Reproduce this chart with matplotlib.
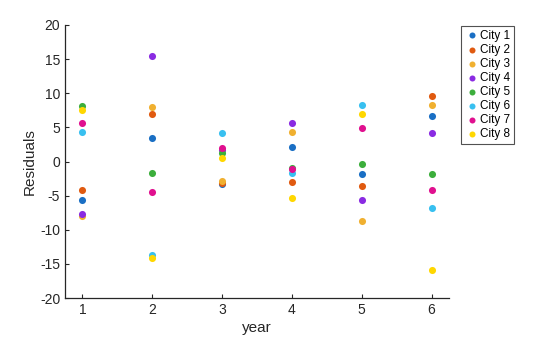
import matplotlib
matplotlib.use("Agg")
import matplotlib.pyplot as plt

plt.rcParams['font.family'] = ['Liberation Sans', 'DejaVu Sans']
plt.rcParams['axes.unicode_minus'] = False

years = [1, 2, 3, 4, 5, 6]
cities = ["City 1", "City 2", "City 3", "City 4", "City 5", "City 6", "City 7", "City 8"]

city1 = [-5.7, 3.4, -3.35, 2.1, -1.9, 6.6]
city2 = [-4.2, 6.9, -3.1, -3.05, -3.6, 9.55]
city3 = [-8.0, 7.95, -2.85, 4.3, -8.75, 8.25]
city4 = [-7.7, 15.4, 1.7, 5.6, -5.7, 4.15]
city5 = [8.1, -1.7, 1.2, -0.9, -0.4, -1.9]
city6 = [4.3, -13.7, 4.15, -1.7, 8.25, -6.85]
city7 = [5.6, -4.5, 1.95, -1.1, 4.85, -4.2]
city8 = [7.5, -14.2, 0.5, -5.4, 6.9, -15.9]
residuals = [city1, city2, city3, city4, city5, city6, city7, city8]

colors = ["#1a6fc4", "#e05a10", "#f0b030", "#8a2be2",
          "#3cae3c", "#38c0f0", "#e0108f", "#ffd700"]

fig = plt.figure(figsize=(5.6, 3.37), dpi=100)
ax = fig.add_axes([65 / 560, 1 - 298 / 337, 384 / 560, 273 / 337])

for name, vals, c in zip(cities, residuals, colors):
    ax.scatter(years, vals, s=26, color=c, label=name, linewidths=0, zorder=3)

ax.set_xlim(0.75, 6.25)
ax.set_ylim(-20, 20)
ax.set_xticks(years)
ax.set_yticks(range(-20, 21, 5))
ax.spines['top'].set_visible(False)
ax.spines['right'].set_visible(False)
for s in ['left', 'bottom']:
    ax.spines[s].set_color('#262626')
    ax.spines[s].set_linewidth(0.9)
ax.tick_params(direction='in', length=3, width=0.8, colors='#262626', labelsize=10)
ax.set_xlabel("year", fontsize=11, color='#262626', labelpad=3)
ax.set_ylabel("Residuals", fontsize=11, color='#262626', labelpad=2)

leg = ax.legend(loc='upper left', bbox_to_anchor=(461 / 560, 1 - 26 / 337),
                bbox_transform=fig.transFigure, fontsize=8.5, frameon=True,
                fancybox=False, edgecolor='#262626', handletextpad=0.1,
                borderpad=0.3, labelspacing=0.18, handlelength=1.2,
                borderaxespad=0, scatterpoints=1, markerscale=0.85)
leg.get_frame().set_linewidth(0.8)

fig.savefig("out.png", dpi=100)
